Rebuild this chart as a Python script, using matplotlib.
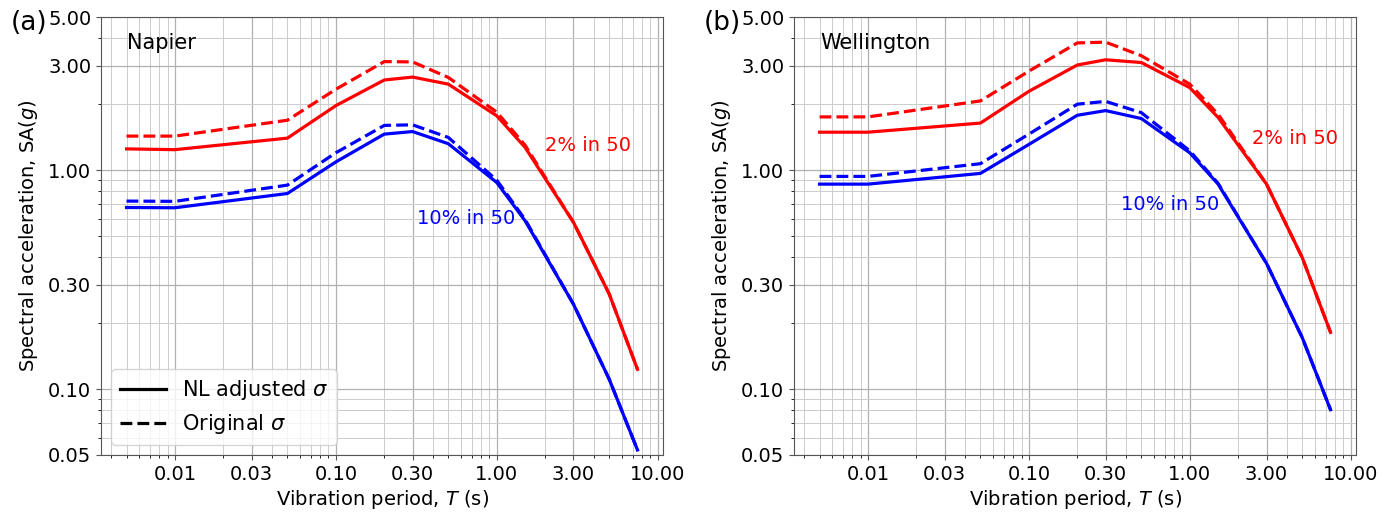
import matplotlib
matplotlib.use("Agg")
import matplotlib.pyplot as plt
from matplotlib.ticker import FixedLocator, FixedFormatter, LogLocator, NullFormatter
from matplotlib.lines import Line2D

periods = [0.005, 0.01, 0.05, 0.1, 0.2, 0.3, 0.5, 1.0, 1.5, 3.0, 5.0, 7.5]

# Napier
nap_2_adj = [1.25, 1.24, 1.40, 1.97, 2.58, 2.66, 2.47, 1.77, 1.27, 0.577, 0.272, 0.123]
nap_2_orig = [1.43, 1.43, 1.69, 2.34, 3.13, 3.12, 2.65, 1.84, 1.30, 0.577, 0.272, 0.123]
nap_10_adj = [0.675, 0.673, 0.782, 1.09, 1.46, 1.50, 1.32, 0.878, 0.587, 0.244, 0.111, 0.0527]
nap_10_orig = [0.722, 0.72, 0.854, 1.20, 1.60, 1.61, 1.41, 0.90, 0.595, 0.244, 0.111, 0.0527]

# Wellington
wel_2_adj = [1.49, 1.49, 1.64, 2.29, 3.02, 3.19, 3.10, 2.38, 1.74, 0.863, 0.399, 0.1815]
wel_2_orig = [1.75, 1.75, 2.07, 2.83, 3.81, 3.84, 3.33, 2.47, 1.80, 0.863, 0.399, 0.1815]
wel_10_adj = [0.863, 0.863, 0.966, 1.31, 1.78, 1.87, 1.72, 1.20, 0.863, 0.375, 0.172, 0.0805]
wel_10_orig = [0.936, 0.936, 1.07, 1.46, 2.00, 2.06, 1.83, 1.225, 0.87, 0.375, 0.172, 0.0805]

xticks = [0.01, 0.03, 0.1, 0.3, 1.0, 3.0, 10.0]
xticklabels = ["0.01", "0.03", "0.10", "0.30", "1.00", "3.00", "10.00"]
yticks = [0.05, 0.1, 0.3, 1.0, 3.0, 5.0]
yticklabels = ["0.05", "0.10", "0.30", "1.00", "3.00", "5.00"]

plt.rcParams['font.family'] = ['DejaVu Sans']
fig = plt.figure(figsize=(13.93, 5.14), dpi=100)
ax1 = fig.add_axes([0.0725, 0.1148, 0.4035, 0.852])
ax2 = fig.add_axes([0.570, 0.1148, 0.4035, 0.852])

fs = 14
panels = [
    (ax1, "Napier", "(a)", nap_2_adj, nap_2_orig, nap_10_adj, nap_10_orig,
     (2.0, 1.29), (0.32, 0.60)),
    (ax2, "Wellington", "(b)", wel_2_adj, wel_2_orig, wel_10_adj, wel_10_orig,
     (2.42, 1.39), (0.376, 0.70)),
]

for ax, name, tag, r_adj, r_orig, b_adj, b_orig, pos2, pos10 in panels:
    ax.plot(periods, r_adj, color='red', lw=2.3, ls='-')
    ax.plot(periods, r_orig, color='red', lw=2.3, ls='--')
    ax.plot(periods, b_adj, color='blue', lw=2.3, ls='-')
    ax.plot(periods, b_orig, color='blue', lw=2.3, ls='--')
    ax.set_xscale('log')
    ax.set_yscale('log')
    ax.set_ylim(0.05, 5.0)
    ax.xaxis.set_major_locator(FixedLocator(xticks))
    ax.xaxis.set_major_formatter(FixedFormatter(xticklabels))
    ax.xaxis.set_minor_locator(LogLocator(base=10, subs=range(2, 10)))
    ax.xaxis.set_minor_formatter(NullFormatter())
    ax.yaxis.set_major_locator(FixedLocator(yticks))
    ax.yaxis.set_major_formatter(FixedFormatter(yticklabels))
    ax.yaxis.set_minor_locator(LogLocator(base=10, subs=range(2, 10)))
    ax.yaxis.set_minor_formatter(NullFormatter())
    ax.grid(True, which='major', color='#b0b0b0', lw=0.9)
    ax.grid(True, which='minor', color='#cccccc', lw=0.7)
    ax.tick_params(labelsize=fs, color='#555555')
    for s in ax.spines.values():
        s.set_color('#555555')
    ax.set_xlabel("Vibration period, $T$ (s)", fontsize=fs, labelpad=3)
    ax.set_ylabel("Spectral acceleration, SA($g$)", fontsize=fs, labelpad=6)
    ax.text(0.046, 0.94, name, transform=ax.transAxes, fontsize=15, va='center', ha='left')
    ax.text(pos2[0], pos2[1], "2% in 50", color='red', fontsize=fs, va='center', ha='left')
    ax.text(pos10[0], pos10[1], "10% in 50", color='blue', fontsize=fs, va='center', ha='left')
    bb = ax.get_position()
    fig.text(bb.x0 - 0.065, 0.955, tag, fontsize=19, va='center', ha='left')

handles = [Line2D([], [], color='black', lw=2.3, ls='-'),
           Line2D([], [], color='black', lw=2.3, ls='--')]
ax1.legend(handles, ["NL adjusted $\\sigma$", "Original $\\sigma$"], loc='lower left',
           fontsize=15, framealpha=0.8, handlelength=2.2)

fig.savefig("out.png", dpi=100)
